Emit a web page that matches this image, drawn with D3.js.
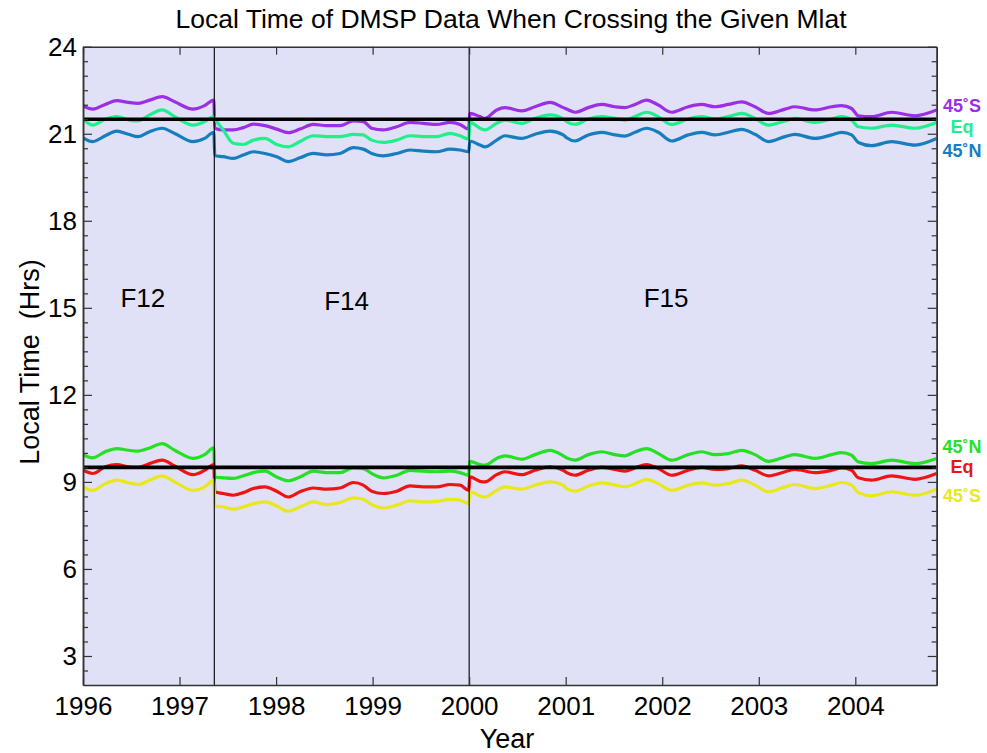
<!DOCTYPE html>
<html><head><meta charset="utf-8">
<script src="https://cdn.jsdelivr.net/npm/d3@7/dist/d3.min.js"></script>
<style>
body{margin:0;background:#fff;}
text{font-family:Arial,"Liberation Sans",Helvetica,sans-serif;}
</style>
</head><body>
<svg id="chart" width="987" height="753"></svg>
<script>
// ---------- data ----------
const yearsF12 = [1996.00,1996.10,1996.23,1996.35,1996.47,1996.57,1996.69,1996.82,1996.95,1997.14,1997.26,1997.355];
const yearsF14 = [1997.365,1997.453,1997.557,1997.661,1997.764,1997.885,1998.006,1998.127,1998.248,1998.385,1998.524,1998.662,1998.800,1998.903,1998.990,1999.110,1999.249,1999.387,1999.525,1999.663,1999.801,1999.905,1999.995];
const yearsF15 = [2000.008,2000.112,2000.164,2000.285,2000.371,2000.544,2000.682,2000.837,2000.975,2001.010,2001.096,2001.234,2001.372,2001.510,2001.614,2001.718,2001.838,2001.959,2002.097,2002.270,2002.408,2002.546,2002.685,2002.823,2002.961,2003.099,2003.272,2003.374,2003.582,2003.755,2003.858,2003.962,2004.031,2004.169,2004.376,2004.618,2004.843];

// evening crossings (upper band)
const pm45S_F12 = [21.97,21.85,22.01,22.14,22.08,22.05,22.16,22.28,22.10,21.85,21.97,22.16];
const pm45S_F14 = [21.19,21.13,21.13,21.21,21.33,21.28,21.16,21.04,21.16,21.32,21.28,21.28,21.44,21.42,21.19,21.13,21.24,21.39,21.36,21.32,21.39,21.32,21.16];
const pm45S_F15 = [21.70,21.59,21.53,21.82,21.90,21.79,21.93,22.08,21.90,21.85,21.74,21.90,22.01,21.93,21.90,22.01,22.16,21.99,21.74,21.93,22.01,21.93,22.01,22.10,21.93,21.70,21.85,21.93,21.82,21.93,21.97,21.87,21.62,21.59,21.74,21.62,21.82];

const pmEq_F12 = [21.50,21.30,21.50,21.59,21.48,21.44,21.65,21.82,21.59,21.30,21.42,21.59];
const pmEq_F14 = [21.53,21.13,20.67,20.63,20.78,20.84,20.63,20.55,20.73,20.93,20.90,20.90,20.98,20.96,20.78,20.70,20.78,20.93,20.90,20.90,21.01,20.93,20.82];
const pmEq_F15 = [21.39,21.19,21.13,21.36,21.47,21.36,21.53,21.65,21.51,21.42,21.32,21.51,21.59,21.53,21.47,21.59,21.74,21.59,21.32,21.51,21.59,21.51,21.59,21.70,21.53,21.30,21.44,21.53,21.39,21.51,21.59,21.47,21.24,21.19,21.30,21.19,21.39];

const pm45N_F12 = [20.86,20.73,20.93,21.09,20.98,20.90,21.07,21.19,21.01,20.73,20.84,21.05];
const pm45N_F14 = [20.24,20.21,20.15,20.27,20.38,20.32,20.21,20.04,20.17,20.32,20.27,20.32,20.52,20.47,20.32,20.24,20.32,20.44,20.40,20.38,20.47,20.44,20.38];
const pm45N_F15 = [20.75,20.61,20.55,20.78,20.93,20.84,20.98,21.09,20.96,20.86,20.75,20.96,21.05,20.96,20.92,21.05,21.19,21.05,20.75,20.96,21.05,20.96,21.05,21.15,20.98,20.73,20.90,20.98,20.84,20.96,21.05,20.96,20.70,20.59,20.73,20.61,20.84];

// morning crossings (lower band)
const am45N_F12 = [9.94,9.83,10.04,10.15,10.09,10.06,10.17,10.32,10.09,9.81,9.94,10.17];
const am45N_F14 = [9.17,9.14,9.12,9.21,9.32,9.37,9.17,9.04,9.17,9.37,9.32,9.32,9.48,9.46,9.29,9.14,9.23,9.40,9.37,9.35,9.37,9.32,9.23];
const am45N_F15 = [9.71,9.60,9.58,9.81,9.90,9.78,9.94,10.09,9.90,9.83,9.75,9.94,10.04,9.94,9.90,10.04,10.15,9.98,9.75,9.94,10.04,9.94,9.98,10.09,9.94,9.71,9.86,9.94,9.81,9.94,10.01,9.92,9.69,9.63,9.75,9.63,9.81];

const amEq_F12 = [9.40,9.29,9.52,9.60,9.52,9.50,9.63,9.75,9.55,9.25,9.40,9.60];
const amEq_F14 = [8.66,8.60,8.54,8.63,8.77,8.83,8.68,8.48,8.66,8.79,8.75,8.79,8.98,8.89,8.68,8.60,8.68,8.86,8.83,8.83,8.91,8.89,8.71];
const amEq_F15 = [9.17,9.02,9.00,9.25,9.35,9.25,9.40,9.52,9.40,9.32,9.23,9.40,9.50,9.43,9.37,9.48,9.60,9.46,9.23,9.40,9.50,9.43,9.46,9.55,9.40,9.21,9.35,9.43,9.32,9.40,9.48,9.40,9.14,9.06,9.21,9.09,9.29];

const am45S_F12 = [8.83,8.71,8.94,9.06,8.97,8.91,9.06,9.21,9.00,8.71,8.83,9.06];
const am45S_F14 = [8.17,8.14,8.06,8.14,8.25,8.31,8.17,7.99,8.14,8.31,8.22,8.29,8.45,8.40,8.22,8.10,8.20,8.35,8.31,8.33,8.40,8.37,8.25];
const am45S_F15 = [8.66,8.52,8.48,8.71,8.83,8.75,8.89,9.00,8.89,8.77,8.68,8.86,8.97,8.89,8.83,8.94,9.09,8.94,8.71,8.89,8.97,8.89,8.94,9.06,8.89,8.66,8.83,8.91,8.77,8.89,8.98,8.89,8.63,8.52,8.66,8.54,8.75];

const referenceLines = [21.5, 9.5];
const satelliteChanges = [1997.36, 2000.0];
const satelliteNames = ["F12", "F14", "F15"];
const satelliteLabelPos = [[1996.62, 15.02], [1998.73, 14.92], [2002.04, 15.02]];
const xTickYears = [1996,1997,1998,1999,2000,2001,2002,2003,2004];
const yTickHours = [3,6,9,12,15,18,21,24];

// ---------- build ----------
const W = 987, H = 753;
const m = {left: 83, top: 46.7, right: 936.7, bottom: 685};
const x = d3.scaleLinear().domain([1996, 2004.843]).range([m.left, m.right]);
const y = d3.scaleLinear().domain([2, 24]).range([m.bottom, m.top]);

const allYears = yearsF12.concat(yearsF14, yearsF15);
const series = [
  {name:"45˚S", color:"#9b2fe6", vals: pm45S_F12.concat(pm45S_F14, pm45S_F15), labelY: 21.75},
  {name:"Eq",   color:"#1ff08c", vals: pmEq_F12.concat(pmEq_F14, pmEq_F15),   labelY: 21.02},
  {name:"45˚N", color:"#167dbe", vals: pm45N_F12.concat(pm45N_F14, pm45N_F15), labelY: 20.20},
  {name:"45˚N", color:"#26e026", vals: am45N_F12.concat(am45N_F14, am45N_F15), labelY: 9.98},
  {name:"Eq",   color:"#ef1414", vals: amEq_F12.concat(amEq_F14, amEq_F15),   labelY: 9.30},
  {name:"45˚S", color:"#e8e81c", vals: am45S_F12.concat(am45S_F14, am45S_F15), labelY: 8.30}
];

const svg = d3.select("#chart");
svg.append("rect").attr("width", W).attr("height", H).attr("fill", "#fff");

svg.append("defs").append("clipPath").attr("id","clip")
  .append("rect").attr("x", m.left).attr("y", m.top)
  .attr("width", m.right - m.left).attr("height", m.bottom - m.top);

svg.append("rect").attr("x", m.left).attr("y", m.top)
  .attr("width", m.right - m.left).attr("height", m.bottom - m.top)
  .attr("fill", "#e0e0f7");

const plot = svg.append("g").attr("clip-path","url(#clip)");

const line = d3.line().x(d => x(d[0])).y(d => y(d[1])).curve(d3.curveMonotoneX);

series.forEach(s => {
  plot.append("path")
    .datum(allYears.map((yr, i) => [yr, s.vals[i]]))
    .attr("fill","none").attr("stroke", s.color)
    .attr("stroke-width", 3.2).attr("stroke-linejoin","round")
    .attr("d", line);
});

// satellite change lines
plot.selectAll(".vline").data(satelliteChanges).enter().append("line")
  .attr("x1", d => x(d)).attr("x2", d => x(d))
  .attr("y1", m.top).attr("y2", m.bottom)
  .attr("stroke","#000").attr("stroke-width",1.1);

// reference black lines
plot.selectAll(".hline").data(referenceLines).enter().append("line")
  .attr("x1", m.left).attr("x2", m.right)
  .attr("y1", d => y(d)).attr("y2", d => y(d))
  .attr("stroke","#000").attr("stroke-width",3.6);

// satellite names
svg.selectAll(".sat").data(satelliteNames).enter().append("text")
  .attr("x", (d,i) => x(satelliteLabelPos[i][0]))
  .attr("y", (d,i) => y(satelliteLabelPos[i][1]))
  .attr("text-anchor","middle").attr("font-size", 26).attr("fill","#000")
  .text(d => d);

// axes
const fmt = d3.format("d");
svg.append("g").attr("transform", `translate(0,${m.bottom})`)
  .call(d3.axisBottom(x).tickValues(xTickYears).tickFormat(fmt).tickSizeInner(-8).tickSizeOuter(0).tickPadding(12));
svg.append("g").attr("transform", `translate(0,${m.top})`)
  .call(d3.axisTop(x).tickValues(xTickYears).tickFormat("").tickSizeInner(-8).tickSizeOuter(0));
svg.append("g").attr("transform", `translate(${m.left},0)`)
  .call(d3.axisLeft(y).tickValues(yTickHours).tickFormat(fmt).tickSizeInner(-9).tickSizeOuter(0).tickPadding(6));
svg.append("g").attr("transform", `translate(${m.right},0)`)
  .call(d3.axisRight(y).tickValues(yTickHours).tickFormat("").tickSizeInner(-9).tickSizeOuter(0));
const minor = d3.range(2.5, 24, 0.5).filter(v => v % 3 !== 0);
svg.append("g").attr("transform", `translate(${m.left},0)`)
  .call(d3.axisLeft(y).tickValues(minor).tickFormat("").tickSizeInner(-5).tickSizeOuter(0));
svg.append("g").attr("transform", `translate(${m.right},0)`)
  .call(d3.axisRight(y).tickValues(minor).tickFormat("").tickSizeInner(-5).tickSizeOuter(0));

svg.selectAll(".tick line").attr("stroke","#333").attr("stroke-width",1.2);
svg.selectAll(".domain").attr("stroke","#333").attr("stroke-width",1.5);
svg.selectAll(".tick text").attr("font-size", 26).attr("fill","#000")
  .attr("font-family","Arial, 'Liberation Sans', sans-serif");

// right-side labels
svg.selectAll(".slab").data(series).enter().append("text")
  .attr("x", 962).attr("y", d => y(d.labelY))
  .attr("text-anchor","middle").attr("font-size", 18).attr("font-weight","bold")
  .attr("fill", d => d.color).text(d => d.name);

// titles
svg.append("text").attr("x", 511).attr("y", 28).attr("text-anchor","middle")
  .attr("font-size", 26.5).attr("fill","#000")
  .text("Local Time of DMSP Data When Crossing the Given Mlat");
svg.append("text").attr("x", 507).attr("y", 748).attr("text-anchor","middle")
  .attr("font-size", 27).attr("fill","#000").text("Year");
svg.append("text").attr("transform", "translate(39,362) rotate(-90)")
  .attr("text-anchor","middle").attr("font-size", 27).attr("fill","#000")
  .attr("xml:space","preserve").style("white-space","pre")
  .text("Local Time  (Hrs)");
</script>
</body></html>
